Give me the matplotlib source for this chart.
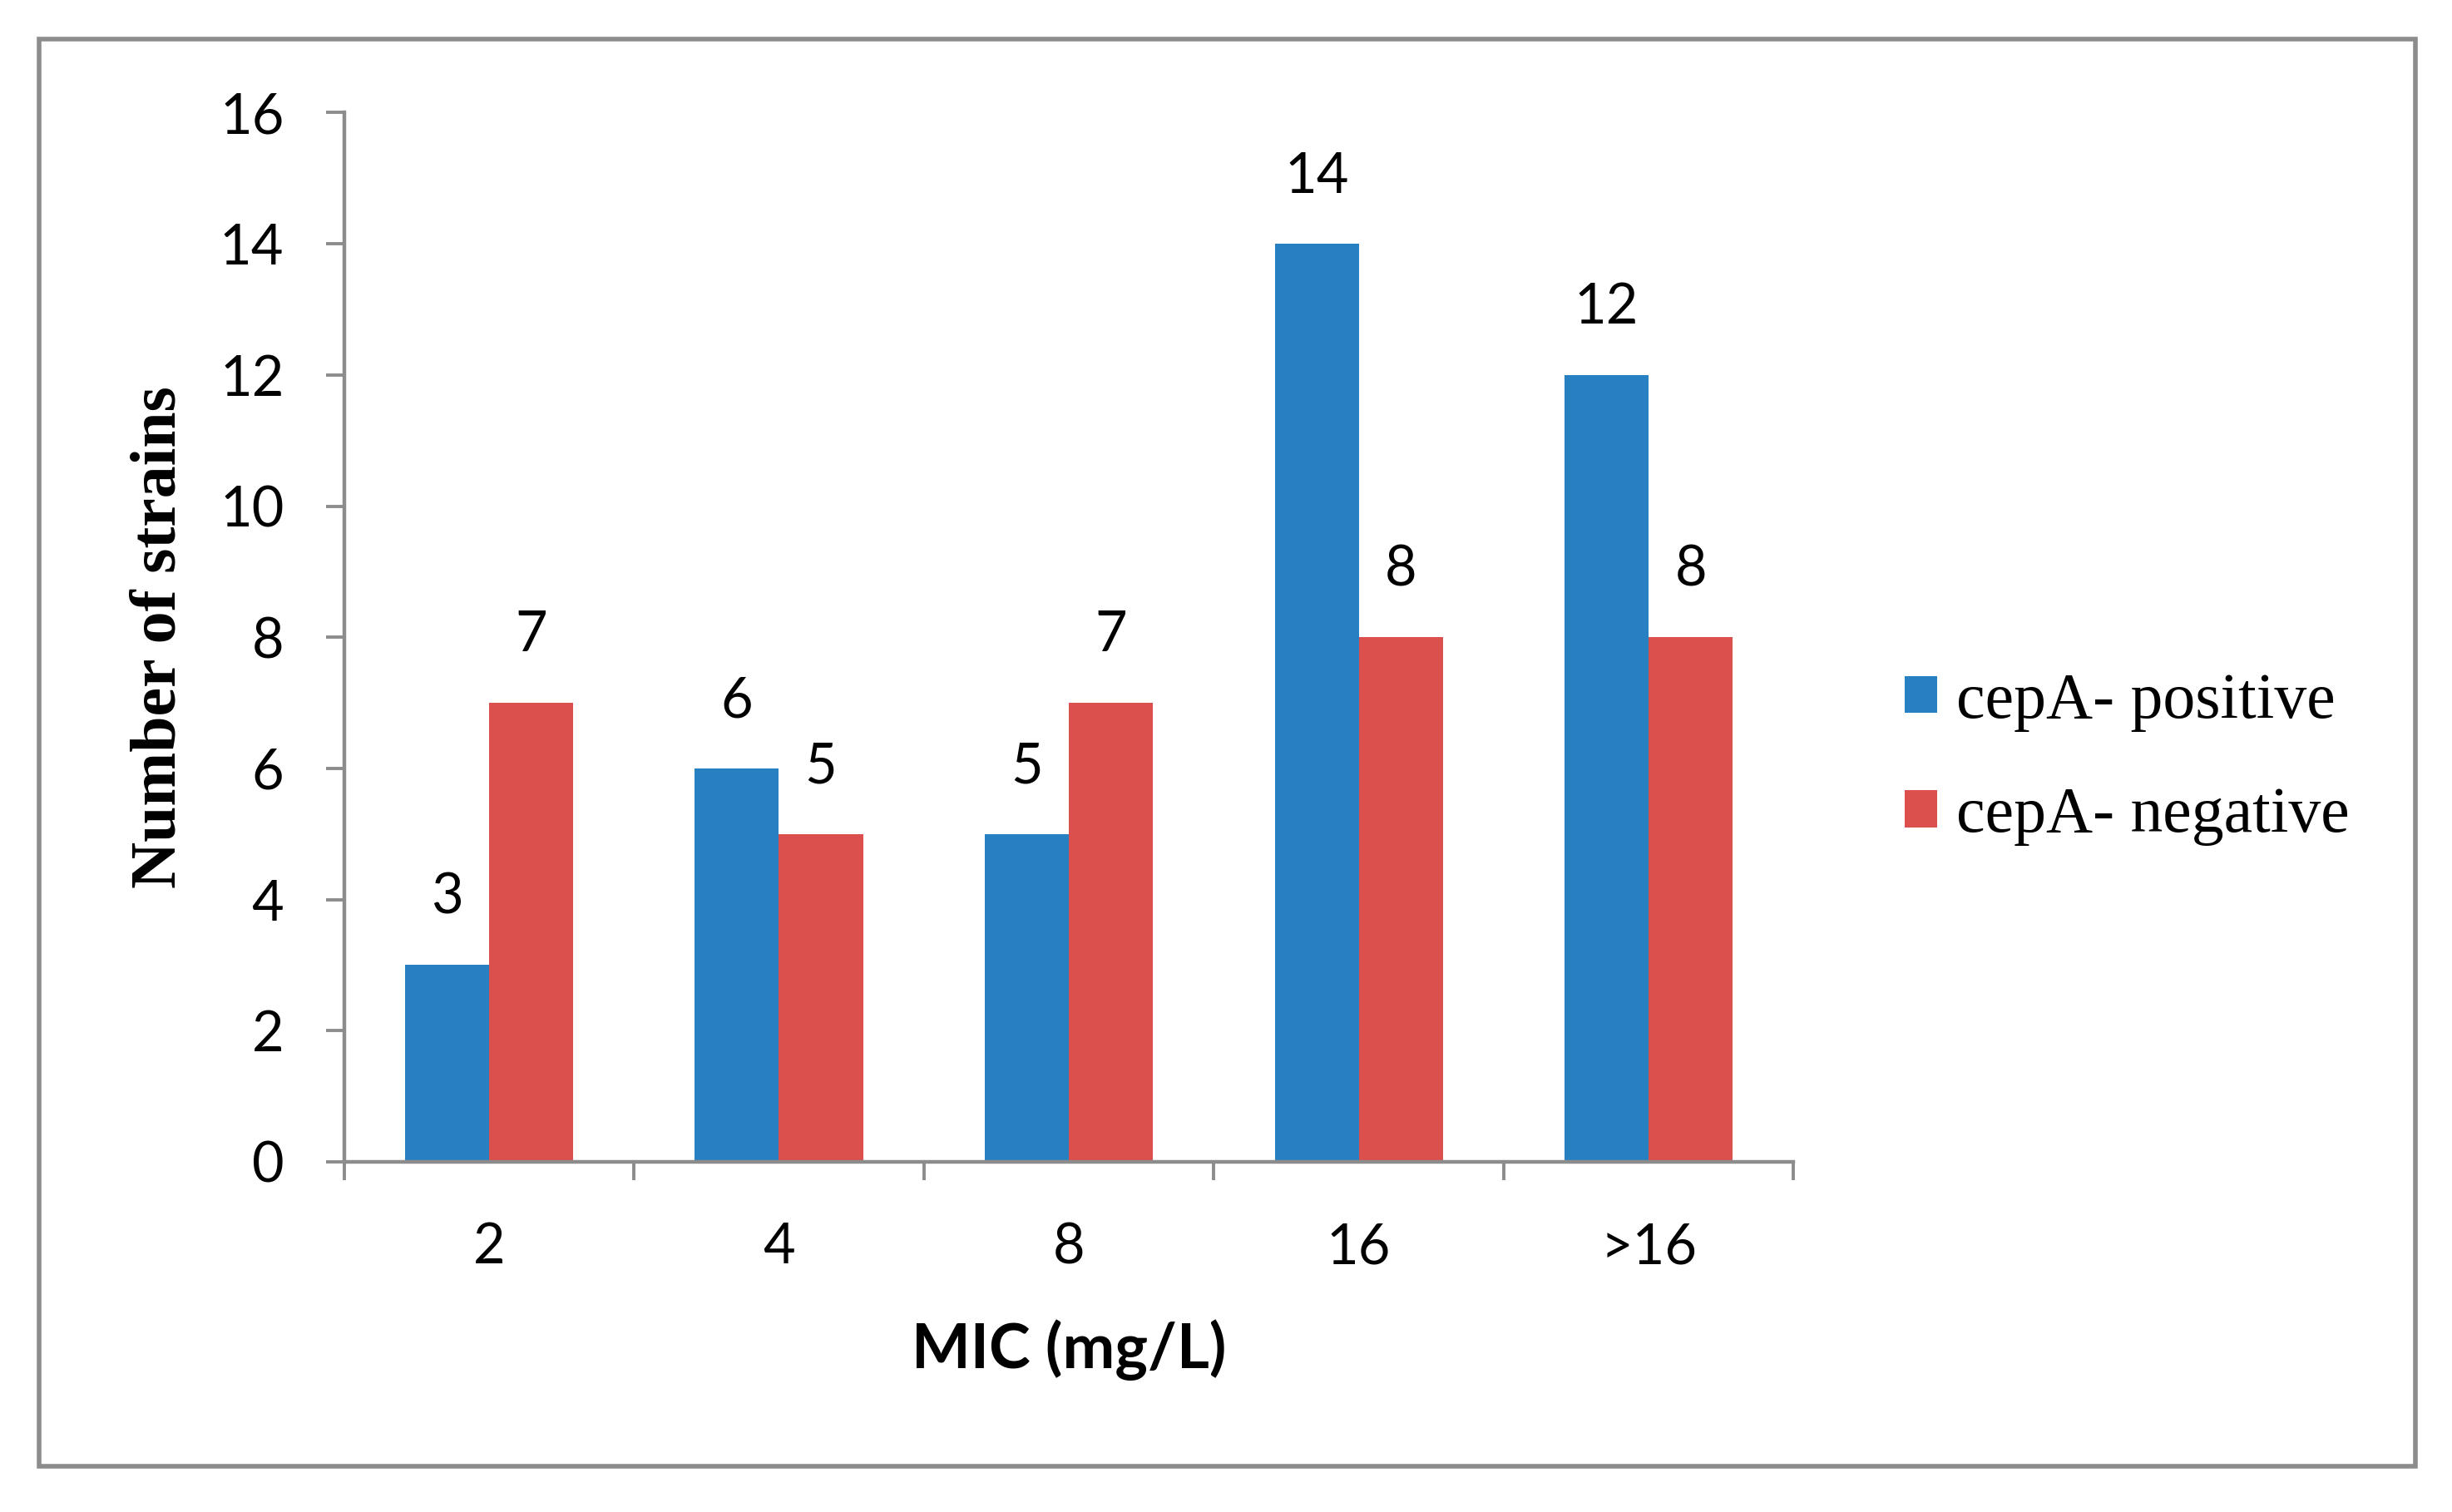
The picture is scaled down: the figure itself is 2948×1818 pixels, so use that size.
import matplotlib
matplotlib.use("Agg")
import matplotlib.pyplot as plt
from matplotlib.patches import Rectangle
import numpy as np

# data
categories = ["2", "4", "8", "16", ">16"]
positive = [3, 6, 5, 14, 12]
negative = [7, 5, 7, 8, 8]
series_names = ["cepA- positive", "cepA- negative"]
colors = ["#2680C2", "#DB4F4C"]

sans = ["Lato", "DejaVu Sans"]
serif = ["Liberation Serif", "DejaVu Serif"]
grey = "#8C8C8C"

fig = plt.figure(figsize=(14.74, 9.09), dpi=200)
ax = fig.add_axes([0.1403, 0.2316, 0.5912, 0.6939])

x = np.arange(len(categories))
w = 0.29
b1 = ax.bar(x - w / 2, positive, w, color=colors[0], label=series_names[0])
b2 = ax.bar(x + w / 2, negative, w, color=colors[1], label=series_names[1])

for bars, vals in ((b1, positive), (b2, negative)):
    for r, v in zip(bars, vals):
        ax.annotate(str(v), (r.get_x() + r.get_width() / 2, v),
                    xytext=(0, 29), textcoords="offset points",
                    ha="center", va="center", fontsize=24, family=sans)

ax.set_xlim(-0.5, len(categories) - 0.5)
ax.set_ylim(0, 16)
ax.set_yticks(range(0, 17, 2))
ax.set_xticks(x)
ax.set_xticklabels(categories)
ax.set_xticks(np.arange(len(categories) + 1) - 0.5, minor=True)

for s in ("top", "right"):
    ax.spines[s].set_visible(False)
for s in ("left", "bottom"):
    ax.spines[s].set_color(grey)
    ax.spines[s].set_linewidth(1.6)

ax.tick_params(axis="y", direction="out", length=8, width=1.4, color=grey,
               pad=18, labelsize=24)
ax.tick_params(axis="x", which="major", length=0, pad=26, labelsize=24)
ax.tick_params(axis="x", which="minor", direction="out", length=8, width=1.4,
               color=grey)
for lab in ax.get_xticklabels() + ax.get_yticklabels():
    lab.set_family(sans)

ax.set_ylabel("Number of strains", family=serif, fontweight="bold",
              fontsize=28, labelpad=13)
ax.set_xlabel("MIC (mg/L)", family=sans, fontweight="bold", fontsize=27,
              labelpad=20)

fig.legend(handles=[b1, b2], labels=series_names, loc="center left",
           bbox_to_anchor=(0.753, 0.498), frameon=False,
           prop={"family": serif, "size": 28}, handlelength=0.5,
           handleheight=0.5, handletextpad=0.3, labelspacing=0.85)

fig.patches.append(Rectangle((0.016, 0.030), 0.969, 0.944,
                             transform=fig.transFigure, fill=False,
                             edgecolor=grey, linewidth=2))

fig.savefig("out.png", dpi=200)
